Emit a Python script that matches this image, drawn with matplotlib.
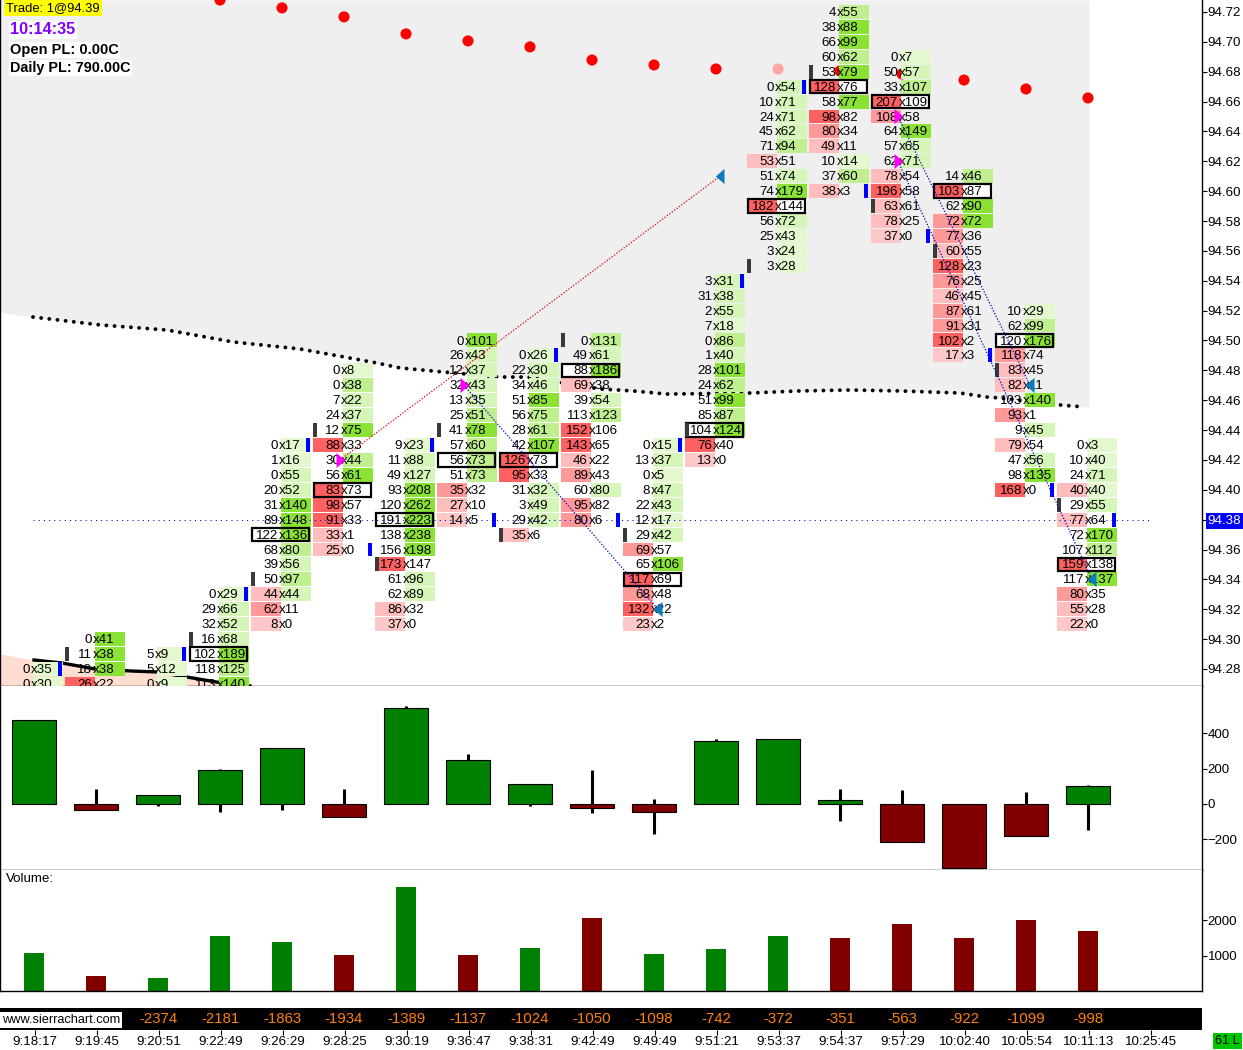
import matplotlib
matplotlib.use("Agg")
import matplotlib.pyplot as plt
import numpy as np

plt.rcParams['font.family'] = ['Liberation Sans', 'DejaVu Sans']

# --------------------------------------------------
# data
# --------------------------------------------------
times = ['9:18:17', '9:19:45', '9:20:51', '9:22:49', '9:26:29', '9:28:25', '9:30:19',
         '9:36:47', '9:38:31', '9:42:49', '9:49:49', '9:51:21', '9:53:37', '9:54:37',
         '9:57:29', '10:02:40', '10:05:54', '10:11:13', '10:25:45']

top_price = [94.28, 94.30, 94.29, 94.33, 94.43, 94.48, 94.43, 94.50, 94.49, 94.50,
             94.43, 94.54, 94.67, 94.72, 94.69, 94.61, 94.52, 94.43]

bids = [
    [0, 0],
    [0, 11, 18, 26],
    [5, 5, 0],
    [0, 29, 32, 16, 102, 118, 113],
    [0, 1, 0, 20, 31, 89, 122, 68, 39, 50, 44, 62, 8],
    [0, 0, 7, 24, 12, 88, 30, 56, 83, 98, 91, 33, 25],
    [9, 11, 49, 93, 120, 191, 138, 156, 173, 61, 62, 86, 37],
    [0, 26, 12, 32, 13, 25, 41, 57, 56, 51, 35, 27, 14],
    [0, 22, 34, 51, 56, 28, 42, 126, 95, 31, 3, 29, 35],
    [0, 49, 88, 69, 39, 113, 152, 143, 46, 89, 60, 95, 80],
    [0, 13, 0, 8, 22, 12, 29, 69, 65, 117, 68, 132, 23],
    [3, 31, 2, 7, 0, 1, 28, 24, 51, 85, 104, 76, 13],
    [0, 10, 24, 45, 71, 53, 51, 74, 182, 56, 25, 3, 3],
    [4, 38, 66, 60, 53, 128, 58, 98, 80, 49, 10, 37, 38],
    [0, 50, 33, 207, 108, 64, 57, 62, 78, 196, 63, 78, 37],
    [14, 103, 62, 72, 77, 60, 128, 76, 46, 87, 91, 102, 17],
    [10, 62, 120, 118, 83, 82, 103, 93, 9, 79, 47, 98, 168],
    [0, 10, 24, 40, 29, 77, 72, 107, 159, 117, 80, 55, 22],
]
asks = [
    [35, 30],
    [41, 38, 38, 22],
    [9, 12, 9],
    [29, 66, 52, 68, 189, 125, 140],
    [17, 16, 55, 52, 140, 148, 136, 80, 56, 97, 44, 11, 0],
    [8, 38, 22, 37, 75, 33, 44, 61, 73, 57, 33, 1, 0],
    [23, 88, 127, 208, 262, 223, 238, 198, 147, 96, 89, 32, 0],
    [101, 43, 37, 43, 35, 51, 78, 60, 73, 73, 32, 10, 5],
    [26, 30, 46, 85, 75, 61, 107, 73, 33, 32, 49, 42, 6],
    [131, 61, 186, 38, 54, 123, 106, 65, 22, 43, 80, 82, 6],
    [15, 37, 5, 47, 43, 17, 42, 57, 106, 69, 48, 22, 2],
    [31, 38, 55, 18, 86, 40, 101, 62, 99, 87, 124, 40, 0],
    [54, 71, 71, 62, 94, 51, 74, 179, 144, 72, 43, 24, 28],
    [55, 88, 99, 62, 79, 76, 77, 82, 34, 11, 14, 60, 3],
    [7, 57, 107, 109, 58, 149, 65, 71, 54, 58, 61, 25, 0],
    [46, 87, 90, 72, 36, 55, 23, 25, 45, 61, 31, 2, 3],
    [29, 99, 176, 74, 45, 11, 140, 1, 45, 54, 56, 135, 0],
    [3, 40, 71, 40, 55, 64, 170, 112, 138, 137, 35, 28, 0],
]

# the first bars run off the bottom of the pane, their real peak is not visible
hidden_ask_peak = {0: 150, 2: 60}
bars_cut_off = [0, 1, 2]

open_price = [np.nan, 94.29, np.nan, 94.30, 94.34, 94.44, 94.35, 94.44, 94.37, 94.50,
              94.37, 94.44, 94.55, 94.68, 94.59, 94.56, 94.48, 94.39]
close_price = [94.28, np.nan, 94.29, 94.33, 94.43, 94.36, 94.43, 94.38, 94.49, 94.38,
               94.43, 94.54, 94.67, 94.60, 94.57, 94.49, 94.40, 94.38]

red_dots = [94.728, 94.7227, 94.7167, 94.7053, 94.7006, 94.6966, 94.6878, 94.6845, 94.6818,
            94.6818, 94.6805, 94.6785, 94.6744, 94.6684, 94.6624]
faded_dot_bar = 12

vwap_x = [33, 100, 167, 233, 300, 333, 377, 400, 443, 500, 527, 600, 633, 667, 750, 800, 850,
          900, 960, 987, 1000, 1060, 1085]
vwap = [94.5157, 94.5104, 94.507, 94.499, 94.4943, 94.4903, 94.4849, 94.4816, 94.4789,
        94.4755, 94.4755, 94.4675, 94.4662, 94.4641, 94.4648, 94.4662, 94.4668, 94.4662,
        94.4648, 94.4621, 94.4615, 94.4568, 94.4554]

thick_x = [34, 62, 95, 133, 157, 187, 217, 250]
thick = [94.286, 94.284, 94.280, 94.2786, 94.278, 94.2746, 94.2712, 94.2686]

last_price = 94.38

trade_in_bar = [5, 7, 14, 14]
trade_in_price = [94.42, 94.47, 94.65, 94.62]
trade_out_bar = [11, 10, 16, 17]
trade_out_price = [94.61, 94.32, 94.47, 94.34]
trade_colors = ['#E00000', '#0000C8', '#0000C8', '#0000C8']

delta_close = [473, -35, 50, 190, 315, -73, 540, 250, 112, -25, -45, 355, 365, 25, -215, -360, -180, 100]
delta_high = [473, 85, 50, 200, 315, 85, 550, 280, 112, 190, 28, 365, 365, 85, 80, 0, 68, 107]
delta_low = [0, -35, -10, -45, -35, -73, 0, 0, -10, -50, -170, 0, 0, -95, -215, -360, -180, -145]

volume = [1090, 430, 370, 1570, 1400, 1030, 2940, 1030, 1230, 2060, 1060, 1200, 1570, 1490,
          1890, 1510, 2000, 1710]
volume_up = [1, 0, 1, 1, 1, 0, 1, 0, 1, 0, 1, 1, 1, 0, 0, 0, 0, 0]

cum_delta = [-2374, -2181, -1863, -1934, -1389, -1137, -1024, -1050, -1098, -742, -372, -351,
             -563, -922, -1099, -998]

GREENS = ['#E3F8CF', '#D6F5B8', '#BFEF8F', '#8AE234']
REDS = ['#FFC8C8', '#FFBDBD', '#FF9999', '#FF6060']
FS = 9.6


def shade(value, peak):
    r = value / peak
    if r < 0.25:
        return 0
    if r < 0.5:
        return 1
    if r < 0.73:
        return 2
    return 3


# --------------------------------------------------
# figure and panes
# --------------------------------------------------
W, H = 1243, 1050
RIGHT = 1202
fig = plt.figure(figsize=(W / 100, H / 100), dpi=100)


def pane(y0, y1):
    return fig.add_axes([0, 1 - y1 / H, RIGHT / W, (y1 - y0) / H])


ax = pane(0, 686)
ax_delta = pane(686, 870)
ax_vol = pane(870, 991)
ax_band = pane(1008, 1030)

bar_x = 33 + 62 * np.arange(len(bids))
time_x = 33 + 62 * np.arange(len(times))

for a in (ax, ax_delta, ax_vol):
    a.set_xlim(0, RIGHT)
    a.set_xticks([])
    a.yaxis.tick_right()
    a.tick_params(axis='y', length=3.6, width=0.8, pad=0.5, labelsize=FS)
    a.spines['top'].set_visible(False)
    for s in a.spines.values():
        s.set_linewidth(1.0)

# --------------------------------------------------
# price pane
# --------------------------------------------------
ax.set_ylim(94.2686, 94.728)
ticks = np.arange(94.28, 94.7201, 0.02)
ax.set_yticks(ticks)
ax.set_yticklabels(['%.2f' % t for t in ticks])

ax.fill_between(np.r_[0, vwap_x, 1089], np.r_[94.519, vwap, vwap[-1]], 94.728,
                color='#EFEFEF', lw=0, zorder=1)
ax.fill_between(np.r_[0, thick_x], np.r_[94.290, thick], 94.2686, color='#FFDDD0', lw=0, zorder=2)

ax.plot(thick_x, thick, color='black', lw=2.4, zorder=3)
ax.plot(vwap_x, vwap, color='black', lw=2.8, ls=(0, (0.01, 2.1)), dash_capstyle='round', zorder=3)

# red dots start at the fourth bar, one of them is faded
dot_x = bar_x[3:] + 1
dot_colors = ['#FFA6A6' if i + 3 == faded_dot_bar else '#FF0000' for i in range(len(red_dots))]
ax.scatter(dot_x, red_dots, s=64, c=dot_colors, linewidths=0, zorder=3)

CELL_H = 0.01 * 14 / 15
TEXT_DROP = 0.0007
for i, x in enumerate(bar_x):
    prices = top_price[i] - 0.01 * np.arange(len(bids[i]))
    bid_peak = max(bids[i])
    ask_peak = hidden_ask_peak.get(i, max(asks[i]))
    totals = np.array(bids[i]) + np.array(asks[i])
    poc = int(np.argmax(totals))
    for k, p in enumerate(prices):
        b, a = bids[i][k], asks[i][k]
        boxed = k == poc and i not in bars_cut_off
        if boxed:
            ax.barh(p, 60, left=x - 30, height=CELL_H, color='white', lw=0, zorder=4)
        if a >= b:
            ax.barh(p, 30, left=x, height=CELL_H, color=GREENS[shade(a, ask_peak)], lw=0, zorder=4)
        if b >= a:
            ax.barh(p, 30, left=x - 30, height=CELL_H, color=REDS[shade(b, bid_peak)], lw=0, zorder=4)
        if boxed:
            ax.barh(p, 57, left=x - 29, height=CELL_H * 0.97, facecolor='none', edgecolor='black',
                    lw=1.6, zorder=5)
        ax.text(x - 3, p - TEXT_DROP, str(b), ha='right', va='center', fontsize=FS, zorder=6, clip_on=True)
        ax.text(x - 2, p - TEXT_DROP, 'x' + str(a), ha='left', va='center', fontsize=FS, zorder=6, clip_on=True)

    # open and close ticks of the bar
    if not np.isnan(open_price[i]):
        ax.barh(open_price[i], 4, left=x - 30, height=CELL_H, color='#3A3A3A', lw=0, zorder=6)
    if not np.isnan(close_price[i]):
        ax.barh(close_price[i], 4, left=x + 25, height=CELL_H, color='#0000FF', lw=0, zorder=6)

ax.plot([33, 1150], [last_price, last_price], color='#0000C8', lw=0.75, ls=(0, (1, 4)), zorder=6)

for j in range(len(trade_in_bar)):
    xa = bar_x[trade_in_bar[j]] - 3
    xb = bar_x[trade_out_bar[j]] + 5
    ax.plot([xa, xb], [trade_in_price[j], trade_out_price[j]], color=trade_colors[j], lw=0.9,
            ls=(0, (1, 1.4)), zorder=7)
    ax.plot(bar_x[trade_in_bar[j]] - 7, trade_in_price[j], marker=[(0, -7), (0, 7), (8, 0), (0, -7)],
            color='#FF00FF', ms=12.5, mew=0, zorder=8)
    ax.plot(bar_x[trade_out_bar[j]] + 9, trade_out_price[j], marker=[(0, -7), (0, 7), (-8, 0), (0, -7)],
            color='#0A7CBE', ms=12.5, mew=0, zorder=8)

# last price label on the axis
for lab, t in zip(ax.get_yticklabels(), ticks):
    if abs(t - last_price) < 0.001:
        lab.set_color('white')
        lab.set_bbox(dict(facecolor='#0000FF', edgecolor='none', pad=1.5))

# --------------------------------------------------
# delta pane
# --------------------------------------------------
ax_delta.set_ylim(-372, 665)
ax_delta.set_yticks([400, 200, 0, -200])
ax_delta.vlines(bar_x + 1, delta_low, delta_high, color='black', lw=2.2, zorder=2)
up = np.array(delta_close) >= 0
ax_delta.bar(bar_x + 1, delta_close, width=44, color=np.where(up, '#008000', '#800000'),
             edgecolor='black', lw=0.8, zorder=3)

# --------------------------------------------------
# volume pane
# --------------------------------------------------
ax_vol.set_ylim(0, 3430)
ax_vol.set_yticks([2000, 1000])
ax_vol.bar(bar_x + 1, volume, width=20, lw=0,
           color=['#008000' if u else '#800000' for u in volume_up])
ax_vol.text(6, 3170, 'Volume:', ha='left', va='center', fontsize=FS)

# --------------------------------------------------
# cumulative delta band and time axis
# --------------------------------------------------
ax_band.set_facecolor('black')
ax_band.set_xlim(0, RIGHT)
ax_band.set_ylim(0, 1)
ax_band.set_yticks([])
for s in ax_band.spines.values():
    s.set_visible(False)
ax_band.set_xticks(time_x + 2)
ax_band.set_xticklabels(times, fontsize=FS)
ax_band.tick_params(axis='x', length=3.6, width=0.8, pad=0.5)
for x, v in zip(bar_x[2:], cum_delta):
    ax_band.text(x + 1, 0.48, str(v), color='#FF7F0F', ha='center', va='center', fontsize=10.8)
ax_band.text(2, 0.45, 'www.sierrachart.com', color='black', ha='left', va='center', fontsize=9.2,
             bbox=dict(facecolor='white', edgecolor='none', pad=1.5))

# --------------------------------------------------
# overlay texts
# --------------------------------------------------


def label(x, y, s, **kw):
    return fig.text(x / W, 1 - y / H, s, ha='left', va='center', **kw)


label(6, 8, 'Trade: 1@94.39', fontsize=9.4, bbox=dict(facecolor='#FFFF00', edgecolor='none', pad=1.5))
label(10, 30, '10:14:35', fontsize=11.7, color='#8000FF', weight='bold',
      bbox=dict(facecolor='white', edgecolor='none', pad=1))
label(10, 50, 'Open PL: 0.00C', fontsize=10.5, weight='bold',
      bbox=dict(facecolor='white', edgecolor='none', pad=1))
label(10, 68, 'Daily PL: 790.00C', fontsize=10.4, weight='bold',
      bbox=dict(facecolor='white', edgecolor='none', pad=1))
label(1215, 1041, '61 L', fontsize=9.2, bbox=dict(facecolor='#00C800', edgecolor='none', pad=1.6))

fig.savefig('out.png', dpi=100)
